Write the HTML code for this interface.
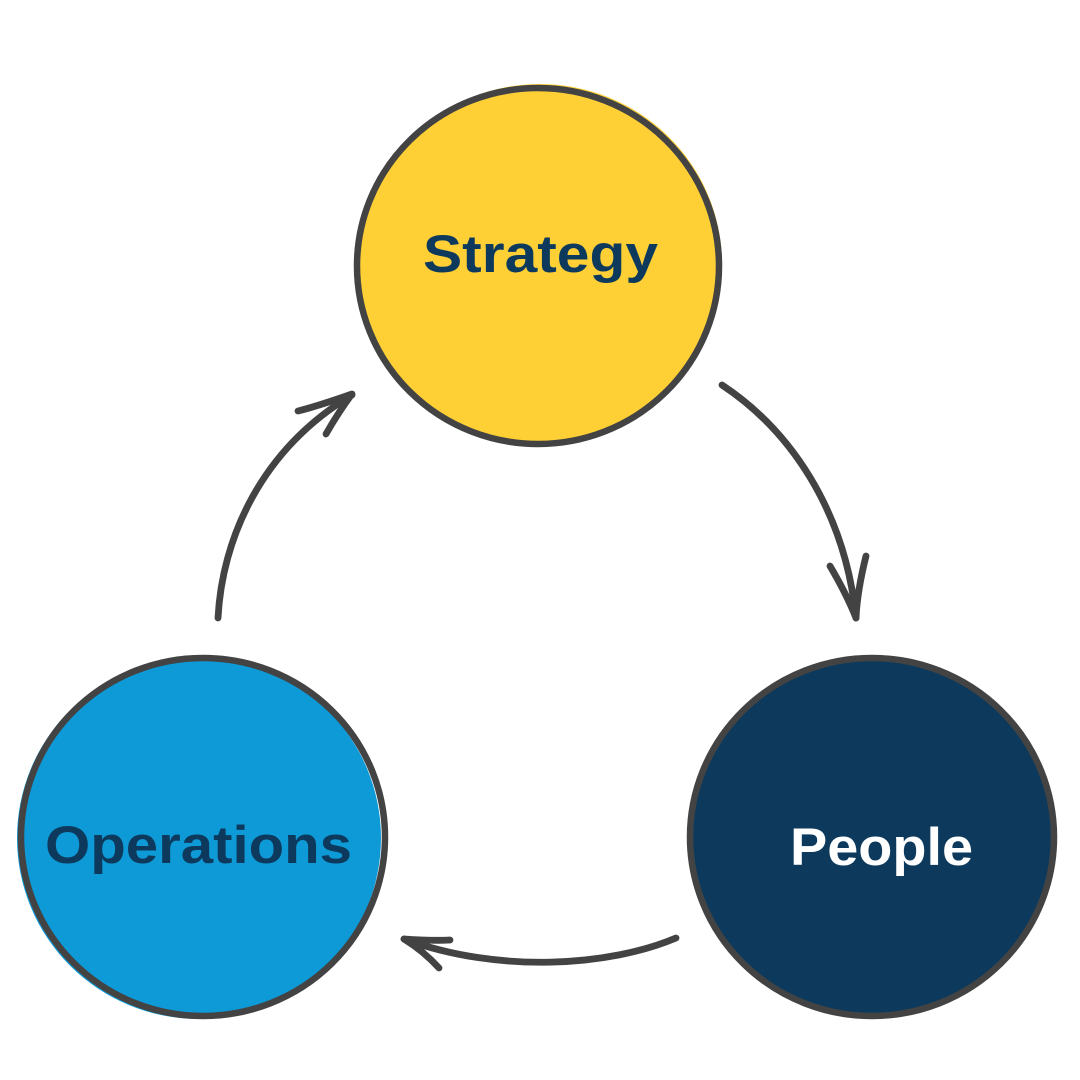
<!DOCTYPE html>
<html>
<head>
<meta charset="utf-8">
<style>
  html, body { margin: 0; padding: 0; background: #ffffff; }
  svg { display: block; }
  text { font-family: "Liberation Sans", sans-serif; font-weight: bold; }
</style>
</head>
<body>
<svg width="1080" height="1080" viewBox="0 0 1080 1080" xmlns="http://www.w3.org/2000/svg">
  <rect width="1080" height="1080" fill="#ffffff"/>

  <!-- Strategy -->
  <ellipse cx="540" cy="264" rx="182" ry="180" fill="#FFD036"/>
  <ellipse cx="538" cy="266" rx="181" ry="178" fill="none" stroke="#434343" stroke-width="6.5"/>
  <text x="423" y="272" font-size="53" fill="#0D3A5C" textLength="235" lengthAdjust="spacingAndGlyphs">Strategy</text>

  <!-- People -->
  <ellipse cx="872" cy="837" rx="182" ry="179" fill="#0D3A5C"/>
  <ellipse cx="872" cy="837" rx="182" ry="179" fill="none" stroke="#434343" stroke-width="6.5"/>
  <text x="790" y="865" font-size="53" fill="#ffffff" textLength="183" lengthAdjust="spacingAndGlyphs">People</text>

  <!-- Operations -->
  <ellipse cx="199" cy="838" rx="182" ry="181" fill="#0E9AD7"/>
  <ellipse cx="203" cy="837" rx="182" ry="179" fill="none" stroke="#434343" stroke-width="6.5"/>
  <text x="45" y="863" font-size="53" fill="#0D3A5C" textLength="307" lengthAdjust="spacingAndGlyphs">Operations</text>

  <!-- Arrows -->
  <g fill="none" stroke="#434343" stroke-width="6.8" stroke-linecap="round" stroke-linejoin="round">
    <!-- left: Operations -> Strategy -->
    <path d="M218,618 C222,540 260,450 352,395"/>
    <path d="M298,411 C318,406 335,400 352,394 C343,406 334,420 326,434"/>
    <!-- right: Strategy -> People -->
    <path d="M722,385 C790,430 845,510 856,618"/>
    <path d="M830,566 C840,583 849,600 856,618 C857,597 861,576 866,556"/>
    <!-- bottom: People -> Operations -->
    <path d="M676,938 C610,966 500,974 404,939"/>
    <path d="M450,940 C434,941 419,940 404,939 C417,947 429,957 439,968"/>
  </g>
</svg>
</body>
</html>
